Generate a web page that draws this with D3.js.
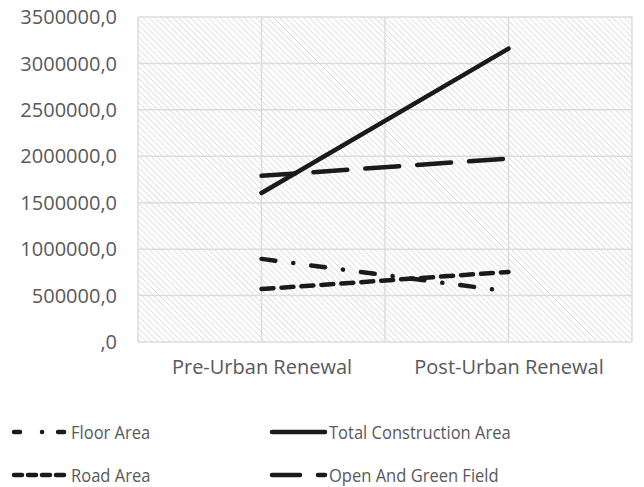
<!DOCTYPE html>
<html><head><meta charset="utf-8">
<script src="https://cdn.jsdelivr.net/npm/d3@7"></script>
<style>body{margin:0;background:#fff}</style>
</head><body>
<svg id="c" width="644" height="487"></svg>
<script>
const categories = ["Pre-Urban Renewal", "Post-Urban Renewal"];
const floorArea = [895000, 545000];
const totalConstruction = [1605000, 3160000];
const roadArea = [570000, 755000];
const openGreen = [1790000, 1975000];
const yTicks = [0, 500000, 1000000, 1500000, 2000000, 2500000, 3000000, 3500000];
const seriesNames = ["Floor Area", "Total Construction Area", "Road Area", "Open And Green Field"];

const series = [
  {name: seriesNames[0], values: floorArea, dash: "14,18,0.1,18"},
  {name: seriesNames[1], values: totalConstruction, dash: null},
  {name: seriesNames[2], values: roadArea, dash: "12,8"},
  {name: seriesNames[3], values: openGreen, dash: "34,18"}
];

const svg = d3.select("#c");
const L = 138, R = 632, T = 17, B = 342;
const x = d3.scalePoint().domain(categories).range([L, R]).padding(0.5);
const y = d3.scaleLinear().domain([0, 3500000]).range([B, T]);

const defs = svg.append("defs");
const pat = defs.append("pattern").attr("id", "hatch").attr("patternUnits", "userSpaceOnUse")
  .attr("width", 4.2).attr("height", 4.2).attr("patternTransform", "rotate(-45)");
pat.append("line").attr("x1", 0).attr("y1", 0).attr("x2", 0).attr("y2", 4.2)
  .attr("stroke", "#c6c6c6").attr("stroke-width", 1);

svg.append("rect").attr("x", L).attr("y", T).attr("width", R - L).attr("height", B - T)
  .attr("fill", "url(#hatch)");

// gridlines
svg.append("g").selectAll("line").data(yTicks).join("line")
  .attr("x1", L).attr("x2", R).attr("y1", d => y(d)).attr("y2", d => y(d))
  .attr("stroke", "#dcdcdc").attr("stroke-width", 1.5);
const step = x.step();
const vlines = [L, x(categories[0]), L + step, x(categories[1]), R];
svg.append("g").selectAll("line").data(vlines).join("line")
  .attr("x1", d => d).attr("x2", d => d).attr("y1", T).attr("y2", B)
  .attr("stroke", "#dcdcdc").attr("stroke-width", 1.5);

// y axis labels
const fmt = d => d === 0 ? ",0" : d3.format("d")(d) + ",0";
const yAxis = d3.axisLeft(y).tickValues(yTicks).tickFormat(fmt).tickSize(0).tickPadding(0);
const gy = svg.append("g").attr("transform", `translate(${L - 21},0)`).call(yAxis);
gy.select(".domain").remove();
gy.selectAll("text").attr("font-family", "Open Sans").attr("font-size", 20).attr("fill", "#595959").attr("dy", "0.33em");

// x axis labels
const xAxis = d3.axisBottom(x).tickSize(0).tickPadding(0);
const gx = svg.append("g").attr("transform", `translate(0,${B + 18})`).call(xAxis);
gx.select(".domain").remove();
gx.selectAll("text").attr("font-family", "Open Sans").attr("font-size", 20).attr("fill", "#595959").attr("dy", "0.71em");

// lines
const line = d3.line().x((d, i) => x(categories[i])).y(d => y(d));
svg.append("g").selectAll("path").data(series).join("path")
  .attr("d", d => line(d.values)).attr("fill", "none").attr("stroke", "#1a1a1a")
  .attr("stroke-width", 4.5).attr("stroke-linecap", "round")
  .attr("stroke-dasharray", d => d.dash);

// legend
const legPos = [[12, 432], [270, 432], [12, 475], [270, 475]];
const legDash = ["6,22,0.1,16", null, "8,6", "28,18"];
const lg = svg.append("g").selectAll("g").data(series).join("g")
  .attr("transform", (d, i) => `translate(${legPos[i][0]},${legPos[i][1]})`);
lg.append("line").attr("x1", 2).attr("x2", 55).attr("y1", 0).attr("y2", 0)
  .attr("stroke", "#1a1a1a").attr("stroke-width", 4.5).attr("stroke-linecap", "round")
  .attr("stroke-dasharray", (d, i) => legDash[i]);
lg.append("text").attr("transform", "translate(59,0) scale(0.87,1)").attr("dy", "0.36em")
  .attr("font-family", "Open Sans").attr("font-size", 19).attr("fill", "#595959")
  .text(d => d.name);
</script>
</body></html>
